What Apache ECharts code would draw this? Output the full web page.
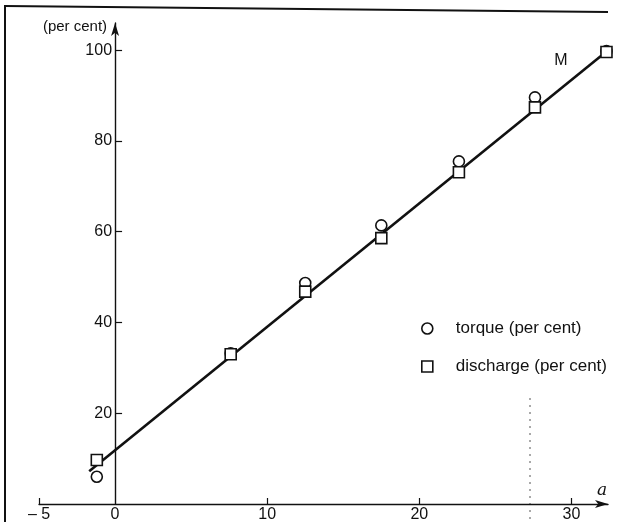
<!DOCTYPE html>
<html>
<head>
<meta charset="utf-8">
<style>
  html, body { margin: 0; padding: 0; background: #fff; }
  #chart { width: 618px; height: 522px; }
</style>
<script src="https://cdn.jsdelivr.net/npm/echarts@6/dist/echarts.min.js"></script>
</head>
<body>
<div id="chart"></div>
<script>
// Angle a against torque and discharge, both in per cent of maximum
var aValues = [-1.2, 7.6, 12.5, 17.5, 22.6, 27.6, 32.3];
var torque = [6.0, 33.2, 48.7, 61.4, 75.5, 89.6, 99.8];
var discharge = [9.7, 33.0, 46.8, 58.6, 73.1, 87.4, 99.6];

// Fitted straight line M (two end points)
var lineA = [-1.7, 32.3];
var lineM = [7.2, 99.7];

// Tick positions
var xTicks = [-5, 10, 20, 30];
var xLabels = [-5, 0, 10, 20, 30];
var yTicks = [20, 40, 60, 80, 100];

var X_MIN = -5, X_MAX = 32.4;
var GRID_LEFT = 39, GRID_RIGHT = 10;

var FONT = '"Liberation Sans", Arial, Helvetica, sans-serif';

function pairs(xs, ys) {
  return xs.map(function (x, i) { return [x, ys[i]]; });
}

// the vertical axis stands at a = 0, so shift it inward from the grid's left edge
var plotWidth = 618 - GRID_LEFT - GRID_RIGHT;
var yAxisShift = -(0 - X_MIN) / (X_MAX - X_MIN) * plotWidth;

var chart = echarts.init(document.getElementById('chart'), null, { renderer: 'canvas' });

chart.setOption({
  animation: false,
  backgroundColor: '#ffffff',
  textStyle: { fontFamily: FONT, color: '#111' },
  grid: { left: GRID_LEFT, right: GRID_RIGHT, top: 23, bottom: 18, containLabel: false, outerBoundsMode: 'none' },
  legend: {
    orient: 'vertical',
    left: 416,
    top: 315,
    itemWidth: 11,
    itemHeight: 11,
    itemGap: 21,
    textStyle: { fontFamily: FONT, fontSize: 17, color: '#111', padding: [0, 0, 0, 18] },
    data: [
      { name: 'torque (per cent)', icon: 'circle', itemStyle: { color: '#fff', borderColor: '#111', borderWidth: 1.6 } },
      { name: 'discharge (per cent)', icon: 'rect', itemStyle: { color: '#fff', borderColor: '#111', borderWidth: 1.6 } }
    ]
  },
  xAxis: {
    type: 'value',
    min: X_MIN,
    max: X_MAX,
    name: 'a',
    nameLocation: 'end',
    nameGap: -6,
    nameTextStyle: { fontFamily: '"DejaVu Serif", "Liberation Serif", serif', fontStyle: 'italic', fontSize: 17, color: '#111', align: 'center', verticalAlign: 'bottom', padding: [0, 0, 5, 0] },
    axisLine: { onZero: false, lineStyle: { color: '#111', width: 1.4 }, symbol: ['none', 'arrow'], symbolSize: [6, 13] },
    axisTick: { inside: true, length: 6, lineStyle: { color: '#111', width: 1.2 }, customValues: xTicks },
    axisLabel: {
      margin: 3, fontSize: 16, color: '#111', fontFamily: FONT,
      customValues: xLabels,
      formatter: function (v) { return v < 0 ? '\u2013 ' + Math.abs(v) : String(v); }
    },
    splitLine: { show: false }
  },
  yAxis: {
    type: 'value',
    position: 'left',
    offset: yAxisShift,
    min: 0,
    max: 106,
    name: '(per cent)',
    nameLocation: 'end',
    nameGap: -4,
    nameTextStyle: { fontFamily: FONT, fontSize: 15, color: '#111', align: 'right', verticalAlign: 'middle', padding: [0, 8, 0, 0] },
    axisLine: { onZero: false, lineStyle: { color: '#111', width: 1.4 }, symbol: ['none', 'arrow'], symbolSize: [6, 13] },
    axisTick: { inside: true, length: 7, lineStyle: { color: '#111', width: 1.2 }, customValues: yTicks },
    axisLabel: { margin: 3, fontSize: 16, color: '#111', fontFamily: FONT, customValues: yTicks },
    splitLine: { show: false }
  },
  series: [
    {
      name: 'M',
      type: 'line',
      data: pairs(lineA, lineM),
      symbol: 'none',
      lineStyle: { color: '#111', width: 2.6 },
      z: 2,
      markPoint: {
        symbol: 'circle',
        symbolSize: 0,
        label: { show: true, position: 'inside', formatter: 'M', fontFamily: FONT, fontSize: 16, color: '#111' },
        data: [{ coord: [29.3, 97.8] }]
      }
    },
    {
      name: 'torque (per cent)',
      type: 'scatter',
      data: pairs(aValues, torque),
      symbol: 'circle',
      symbolSize: 11,
      itemStyle: { color: '#fff', borderColor: '#111', borderWidth: 1.6, opacity: 1 },
      z: 3
    },
    {
      name: 'discharge (per cent)',
      type: 'scatter',
      data: pairs(aValues, discharge),
      symbol: 'rect',
      symbolSize: 11,
      itemStyle: { color: '#fff', borderColor: '#111', borderWidth: 1.6, opacity: 1 },
      z: 4
    }
  ],
  graphic: [
    // page frame, left and top edges
    { type: 'line', shape: { x1: 5, y1: 5, x2: 5, y2: 522 }, style: { stroke: '#111', lineWidth: 2 }, silent: true },
    { type: 'line', shape: { x1: 5, y1: 6, x2: 608, y2: 12 }, style: { stroke: '#111', lineWidth: 2 }, silent: true },
    // faint dotted guide near a = 27.5
    { type: 'line', shape: { x1: 530, y1: 398, x2: 530, y2: 522 }, style: { stroke: '#555', lineWidth: 1, lineDash: [2, 5] }, silent: true }
  ]
});
</script>
</body>
</html>
